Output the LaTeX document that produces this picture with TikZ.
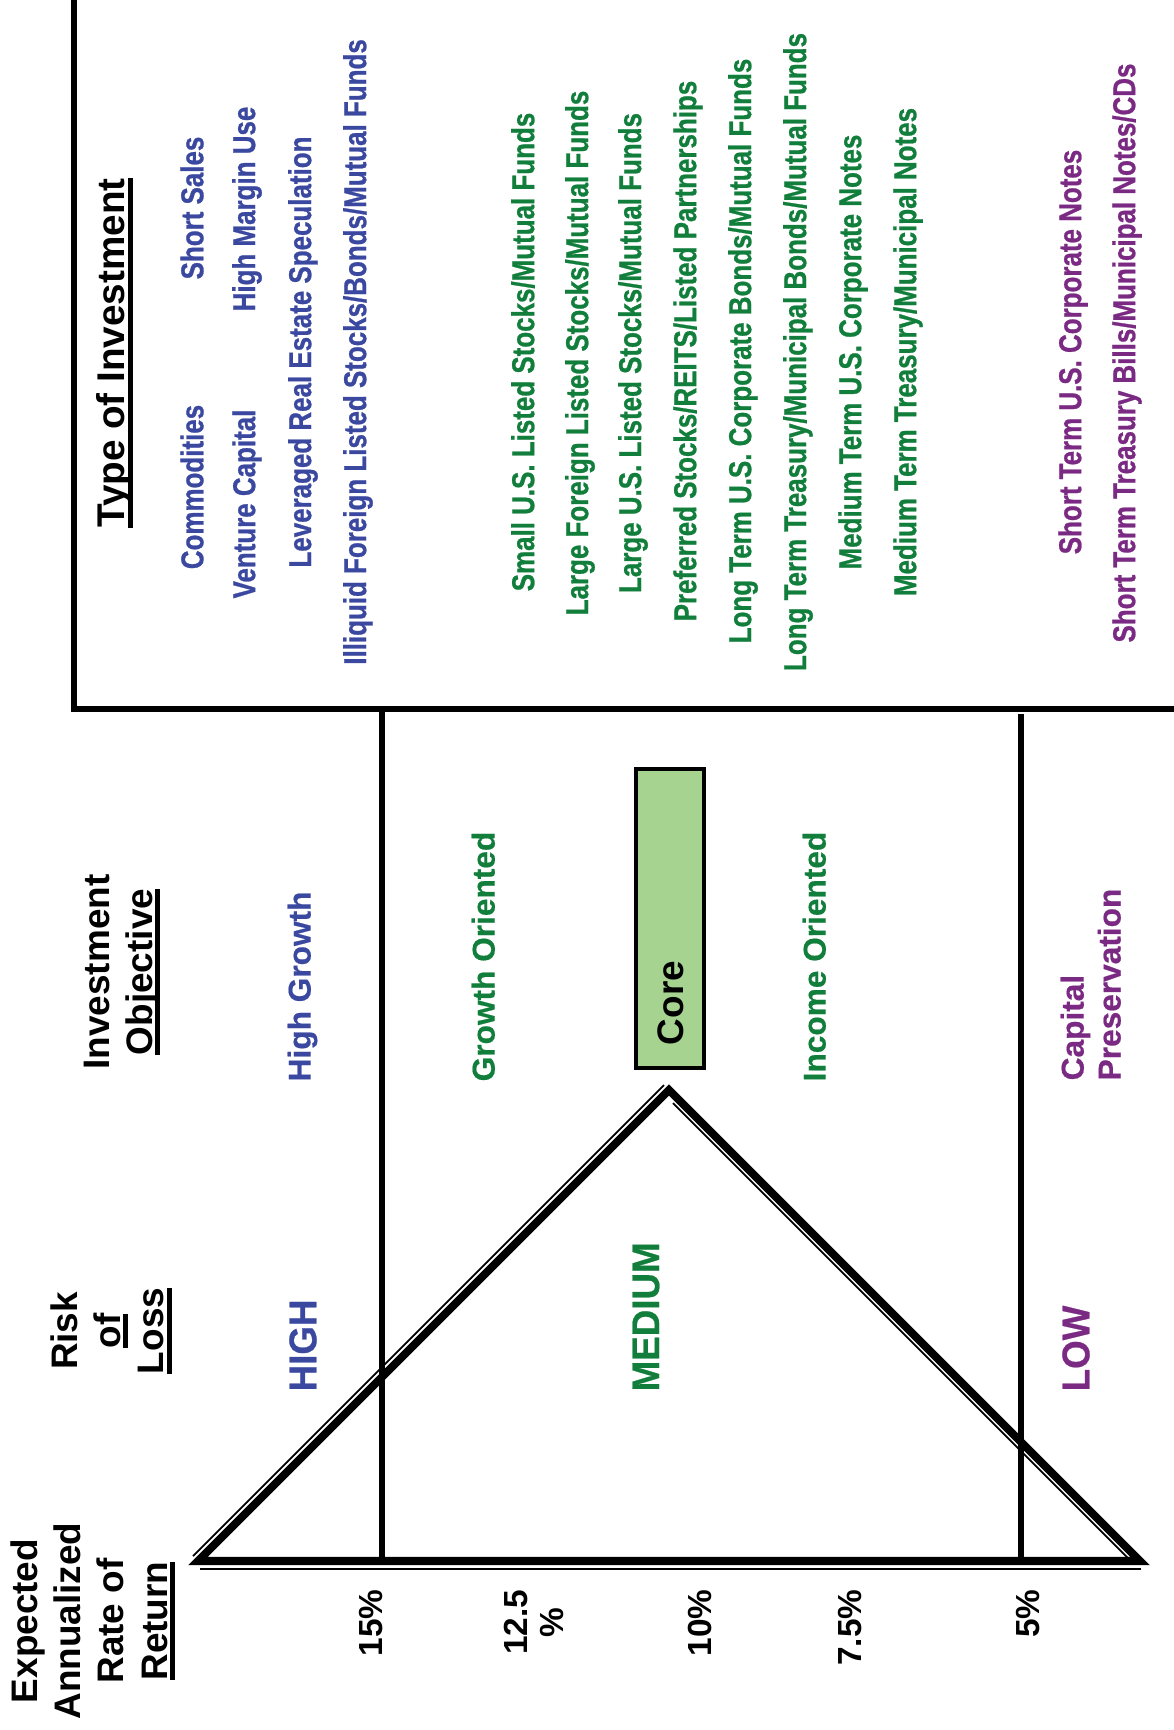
\documentclass[tikz,border=0pt]{standalone}
\usepackage{fontspec}
\setmainfont{Liberation Sans}
\newfontfamily\narrowfont[FakeStretch=0.82, FakeBold=0.8]{Liberation Sans Bold}
\newfontfamily\levelfont[FakeStretch=0.95, FakeBold=0.6]{Liberation Sans Bold}
\newfontfamily\objfont[FakeBold=0.5]{Liberation Sans Bold}
\usetikzlibrary{positioning}
\definecolor{invblue}{RGB}{59,72,160}
\definecolor{invgreen}{RGB}{18,126,60}
\definecolor{invpurple}{RGB}{122,42,130}
\definecolor{corefill}{RGB}{166,211,143}
\newsavebox\ulbox
\newcommand{\hdrul}[1]{\sbox\ulbox{#1}\rlap{\rule[-2.3pt]{\wd\ulbox}{1.4pt}}\usebox\ulbox}
\tikzset{
  header/.style = {
    rotate=90, inner sep=0pt, align=center,
    font=\fontsize{10.5}{12.3}\selectfont\bfseries
  },
  invitem/.style = {
    rotate=90, inner sep=0pt,
    font=\narrowfont\fontsize{9}{10}\selectfont
  },
  objective/.style = {
    rotate=90, inner sep=0pt, anchor=north west, align=left,
    font=\objfont\fontsize{9}{10.5}\selectfont
  },
  risklevel/.style = {
    rotate=90, inner sep=0pt, anchor=west,
    font=\levelfont\fontsize{11}{12}\selectfont
  },
  yield/.style = {
    rotate=90, inner sep=0pt, anchor=east, align=center,
    font=\fontsize{9.5}{10.2}\selectfont\bfseries
  },
  framerule/.style = {
    line width=1.7pt
  },
  divider/.style = {
    line width=1.7pt
  },
  tri/.style = {
    line width=2.3pt
  },
  trithin/.style = {
    line width=0.5pt
  },
  corebox/.style = {
    draw, line width=0.95pt, fill=corefill
  }
}

\begin{document}
\begin{tikzpicture}[x=0.1mm, y=-0.1mm]
    \useasboundingbox (0,0) rectangle (1174,1730);

    \node[header] (expected) at (93,1621) {Expected\\Annualized\\Rate of\\\hdrul{Return}};
    \node[header] (riskhdr)  at (111,1331) {Risk\\\hdrul{of}\\\hdrul{Loss}};
    \node[header] (objhdr)   at (122,972) {Investment\\\hdrul{Objective}};
    \node[header, font=\fontsize{11}{12}\selectfont\bfseries] (typehdr) at (115,353) {\hdrul{Type of Investment}};

    \draw[framerule] (74,0) -- (74,709) -- (1174,709);

    \node[invitem, text=invblue] (commodities) at (192,487) {Commodities};
    \node[invitem, text=invblue] (shortsales)  at (192,208) {Short Sales};
    \node[invitem, text=invblue] (venture)     at (247,504) {Venture Capital};
    \node[invitem, text=invblue] (margin)      at (247,209) {High Margin Use};
    \node[invitem, text=invblue] (leveraged)   at (303,352) {Leveraged Real Estate Speculation};
    \node[invitem, text=invblue] (illiquid)    at (358,352) {Illiquid Foreign Listed Stocks/Bonds/Mutual Funds};

    \node[invitem, text=invgreen] (smallus)      at (523,352) {Small U.S. Listed Stocks/Mutual Funds};
    \node[invitem, text=invgreen] (largeforeign) at (580,353) {Large Foreign Listed Stocks/Mutual Funds};
    \node[invitem, text=invgreen] (largeus)      at (633,353) {Large U.S. Listed Stocks/Mutual Funds};
    \node[invitem, text=invgreen] (preferred)    at (688,351) {Preferred Stocks/REITS/Listed Partnerships};
    \node[invitem, text=invgreen] (ltcorp)       at (743,351) {Long Term U.S. Corporate Bonds/Mutual Funds};
    \node[invitem, text=invgreen] (lttreasury)   at (798,352) {Long Term Treasury/Municipal Bonds/Mutual Funds};
    \node[invitem, text=invgreen] (mtcorp)       at (853,352) {Medium Term U.S. Corporate Notes};
    \node[invitem, text=invgreen] (mttreasury)   at (908,352) {Medium Term Treasury/Municipal Notes};

    \node[invitem, text=invpurple] (stcorp)     at (1073,352) {Short Term U.S. Corporate Notes};
    \node[invitem, text=invpurple] (sttreasury) at (1127,353) {Short Term Treasury Bills/Municipal Notes/CDs};

    \node[objective, text=invblue]   (highgrowth) at (287,1082) {High Growth};
    \node[objective, text=invgreen]  (growthor)   at (471,1082) {Growth Oriented};
    \node[objective, text=invgreen]  (incomeor)   at (802,1082) {Income Oriented};
    \node[objective, text=invpurple] (capital)    at (1060,1081) {Capital\\Preservation};

    \draw[corebox] (636,769) rectangle (704,1068);
    \node[rotate=90, inner sep=0pt, font=\fontsize{10.5}{12}\selectfont\bfseries] (core) at (671,1003) {Core};

    \node[risklevel, text=invblue]   (high)   at (303,1392) {HIGH};
    \node[risklevel, text=invgreen]  (medium) at (646,1392) {MEDIUM};
    \node[risklevel, text=invpurple] (low)    at (1076,1392) {LOW};

    \coordinate (lowleft)  at (198,1561);
    \coordinate (apex)     at (669,1090);
    \coordinate (lowright) at (1140,1561);

    \draw[divider] (382,709) -- (382,1561);
    \draw[divider] (1021,714) -- (1021,1561);

    \draw[tri] (lowleft) -- (apex) -- (lowright) -- cycle;
    \draw[trithin] (193,1556) -- (664,1085);
    \draw[trithin] (673,1103) -- (1133,1563);
    \draw[trithin] (200,1569) -- (1141,1569);

    \node[yield] (y15)  at (371,1589) {15\%};
    \node[yield] (y125) at (534,1589) {12.5\\\%};
    \node[yield] (y10)  at (700,1589) {10\%};
    \node[yield] (y75)  at (850,1589) {7.5\%};
    \node[yield] (y5)   at (1028,1589) {5\%};
\end{tikzpicture}
\end{document}
